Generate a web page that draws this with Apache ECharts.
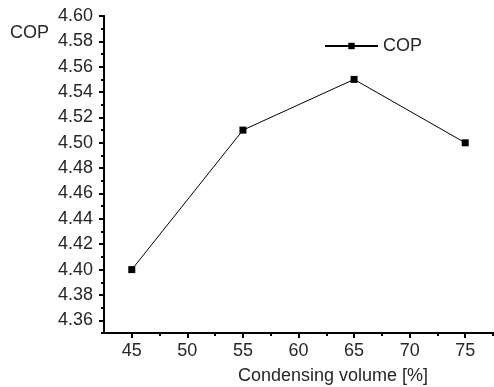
<!DOCTYPE html>
<html><head><meta charset="utf-8">
<script src="https://cdn.jsdelivr.net/npm/echarts@6/dist/echarts.min.js"></script>
<style>html,body{margin:0;padding:0;background:#fff}#c{width:494px;height:387px}</style>
</head><body><div id="c"></div>
<script>
const categories = [45, 55, 65, 75];
const copValues = [4.40, 4.51, 4.55, 4.50];
const xTickLabels = [45, 50, 55, 60, 65, 70, 75];
const xMinorTicks = [47.5, 52.5, 57.5, 62.5, 67.5, 72.5, 77.5];
const yTickLabels = [4.36, 4.38, 4.40, 4.42, 4.44, 4.46, 4.48, 4.50, 4.52, 4.54, 4.56, 4.58, 4.60];
const yMinorTicks = [4.35, 4.37, 4.39, 4.41, 4.43, 4.45, 4.47, 4.49, 4.51, 4.53, 4.55, 4.57, 4.59];

const font = 'Liberation Sans, Arial, sans-serif';
const txt = '#262626';
const fs = 18;
const chart = echarts.init(document.getElementById('c'));
const xBase = {type:'value', min:42.5, max:77.5, position:'bottom',
  axisLine:{lineStyle:{color:'#000', width:2}}, splitLine:{show:false}};
const yBase = {type:'value', min:4.35, max:4.60, position:'left',
  axisLine:{lineStyle:{color:'#000', width:2}}, splitLine:{show:false}};
chart.setOption({
  animation:false,
  backgroundColor:'#fff',
  grid:{left:104, right:1, top:16, bottom:54, containLabel:false},
  title:[
    {text:'COP', left:10, top:24, padding:0, textStyle:{fontFamily:font, fontSize:fs, fontWeight:'normal', color:txt}},
    {text:'Condensing volume [%]', left:333, textAlign:'center', top:367, padding:0, textStyle:{fontFamily:font, fontSize:fs, fontWeight:'normal', color:txt}}
  ],
  legend:{left:319, top:32, itemWidth:53, itemHeight:8, itemGap:6,
    textStyle:{fontFamily:font, fontSize:fs, color:txt}, data:['COP']},
  xAxis:[
    Object.assign({}, xBase, {
      axisTick:{show:true, inside:false, length:5, lineStyle:{color:'#000', width:2}, customValues:xTickLabels},
      axisLabel:{margin:9, fontFamily:font, fontSize:fs, color:txt, customValues:xTickLabels}}),
    Object.assign({}, xBase, {
      axisTick:{show:true, inside:false, length:3, lineStyle:{color:'#000', width:2}, customValues:xMinorTicks},
      axisLabel:{show:false}})
  ],
  yAxis:[
    Object.assign({}, yBase, {
      axisTick:{show:true, inside:false, length:5, lineStyle:{color:'#000', width:2}, customValues:yTickLabels},
      axisLabel:{margin:11, fontFamily:font, fontSize:fs, color:txt, customValues:yTickLabels,
        formatter:v => v.toFixed(2)}}),
    Object.assign({}, yBase, {
      axisTick:{show:true, inside:false, length:3, lineStyle:{color:'#000', width:2}, customValues:yMinorTicks},
      axisLabel:{show:false}})
  ],
  series:[{
    name:'COP', type:'line', xAxisIndex:0, yAxisIndex:0,
    data:categories.map((c,i)=>[c, copValues[i]]),
    symbol:'rect', symbolSize:7,
    lineStyle:{color:'#000', width:1},
    itemStyle:{color:'#000'}
  }]
});
</script></body></html>
